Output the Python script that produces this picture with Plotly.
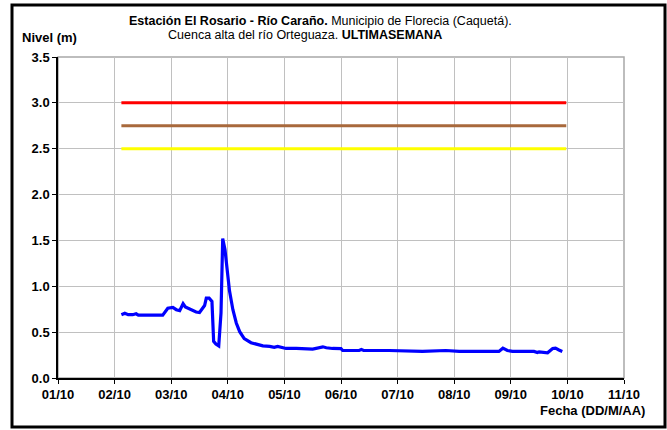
import plotly.graph_objects as go

# Water level series (days after 01/10, level in metres)
dias = [1.12, 1.18, 1.24, 1.32, 1.38, 1.42, 1.56, 1.68, 1.74, 1.85,
        1.94, 2.03, 2.09, 2.15, 2.21, 2.25, 2.35, 2.44, 2.50, 2.56,
        2.59, 2.62, 2.67, 2.72, 2.75, 2.79, 2.84, 2.88, 2.91, 2.95,
        2.99, 3.03, 3.09, 3.15, 3.21, 3.29, 3.41, 3.56, 3.62, 3.74,
        3.82, 3.88, 3.94, 4.03, 4.21, 4.38, 4.50, 4.68, 4.74, 4.85,
        5.00, 5.03, 5.32, 5.36, 5.40, 5.85, 6.44, 6.85, 7.09, 7.79,
        7.86, 7.94, 8.03, 8.41, 8.47, 8.50, 8.65, 8.74, 8.79, 8.85, 8.91]
nivel = [0.69, 0.705, 0.69, 0.69, 0.70, 0.685, 0.685, 0.68, 0.685, 0.685,
         0.76, 0.77, 0.745, 0.735, 0.81, 0.775, 0.75, 0.72, 0.715, 0.77,
         0.79, 0.87, 0.87, 0.835, 0.40, 0.37, 0.35, 0.71, 1.52, 1.40,
         1.18, 0.95, 0.745, 0.60, 0.505, 0.43, 0.385, 0.365, 0.35, 0.345,
         0.335, 0.345, 0.335, 0.322, 0.322, 0.32, 0.315, 0.34, 0.33, 0.322,
         0.32, 0.30, 0.30, 0.31, 0.30, 0.30, 0.29, 0.30, 0.29, 0.29,
         0.325, 0.30, 0.29, 0.29, 0.278, 0.285, 0.275, 0.322, 0.325, 0.305, 0.29]

# Alert thresholds
umbral_niveles = [3.0, 2.75, 2.5]
umbral_colores = ["#ff0000", "#a8693c", "#ffff00"]
umbral_rango = [1.12, 8.98]

# Axis ticks
x_ticks = list(range(0, 11))
x_labels = ["01/10", "02/10", "03/10", "04/10", "05/10", "06/10",
            "07/10", "08/10", "09/10", "10/10", "11/10"]
y_ticks = [0.0, 0.5, 1.0, 1.5, 2.0, 2.5, 3.0, 3.5]

W, H = 667, 430
L, R, T, B = 58, 43, 57, 52
PW, PH = W - L - R, H - T - B


def px(x):
    return (x - L) / PW


def py(y):
    return (H - B - y) / PH


FONT = "Liberation Sans, Arial, sans-serif"

fig = go.Figure()
for lvl, col in zip(umbral_niveles, umbral_colores):
    fig.add_trace(go.Scatter(x=umbral_rango, y=[lvl, lvl], mode="lines",
                             line=dict(color=col, width=3), hoverinfo="skip",
                             showlegend=False))
fig.add_trace(go.Scatter(x=dias, y=nivel, mode="lines",
                         line=dict(color="#0000ff", width=3.2), showlegend=False))

tickfont = dict(family=FONT, size=13, color="black", weight="bold")

fig.update_layout(
    width=W, height=H,
    margin=dict(l=L, r=R, t=T, b=B),
    paper_bgcolor="white", plot_bgcolor="white",
    font=dict(family=FONT, size=12, color="black"),
    xaxis=dict(range=[0, 10], tickvals=x_ticks, ticktext=x_labels,
               showgrid=True, gridcolor="#c0c0c0", gridwidth=1,
               showline=True, linecolor="black", linewidth=1.5,
               ticks="outside", ticklen=4, tickcolor="black",
               tickfont=tickfont, zeroline=False, fixedrange=True),
    yaxis=dict(range=[0, 3.5], tickvals=y_ticks,
               ticktext=[f"{v:.1f}" for v in y_ticks],
               showgrid=True, gridcolor="#c0c0c0", gridwidth=1,
               showline=True, linecolor="black", linewidth=1.5,
               ticks="outside", ticklen=4, tickcolor="black",
               tickfont=tickfont, zeroline=False, fixedrange=True),
    shapes=[
        # grey frame around the plotting area
        dict(type="rect", xref="paper", yref="paper", x0=0, x1=1, y0=0, y1=1,
             line=dict(color="#a8a8a8", width=1.5), layer="below"),
        # black outer border of the chart
        dict(type="rect", xref="paper", yref="paper",
             x0=px(12), x1=px(665), y0=py(427), y1=py(5),
             line=dict(color="black", width=3)),
    ],
    annotations=[
        dict(xref="paper", yref="paper", x=px(320), y=py(20.5),
             xanchor="center", yanchor="middle", showarrow=False,
             text="<b>Estación El Rosario - Río Caraño.</b> Municipio de Florecia (Caquetá).",
             font=dict(family=FONT, size=12.5, color="black")),
        dict(xref="paper", yref="paper", x=px(305), y=py(35.5),
             xanchor="center", yanchor="middle", showarrow=False,
             text="Cuenca alta del río Orteguaza. <b>ULTIMASEMANA</b>",
             font=dict(family=FONT, size=12.5, color="black")),
        dict(xref="paper", yref="paper", x=px(20), y=py(37),
             xanchor="left", yanchor="middle", showarrow=False,
             text="<b>Nivel (m)</b>",
             font=dict(family=FONT, size=13, color="black")),
        dict(xref="paper", yref="paper", x=px(647), y=py(411),
             xanchor="right", yanchor="middle", showarrow=False,
             text="<b>Fecha (DD/M/AA)</b>",
             font=dict(family=FONT, size=13, color="black")),
    ],
)

fig.write_html("out.html", config={"displayModeBar": False})
